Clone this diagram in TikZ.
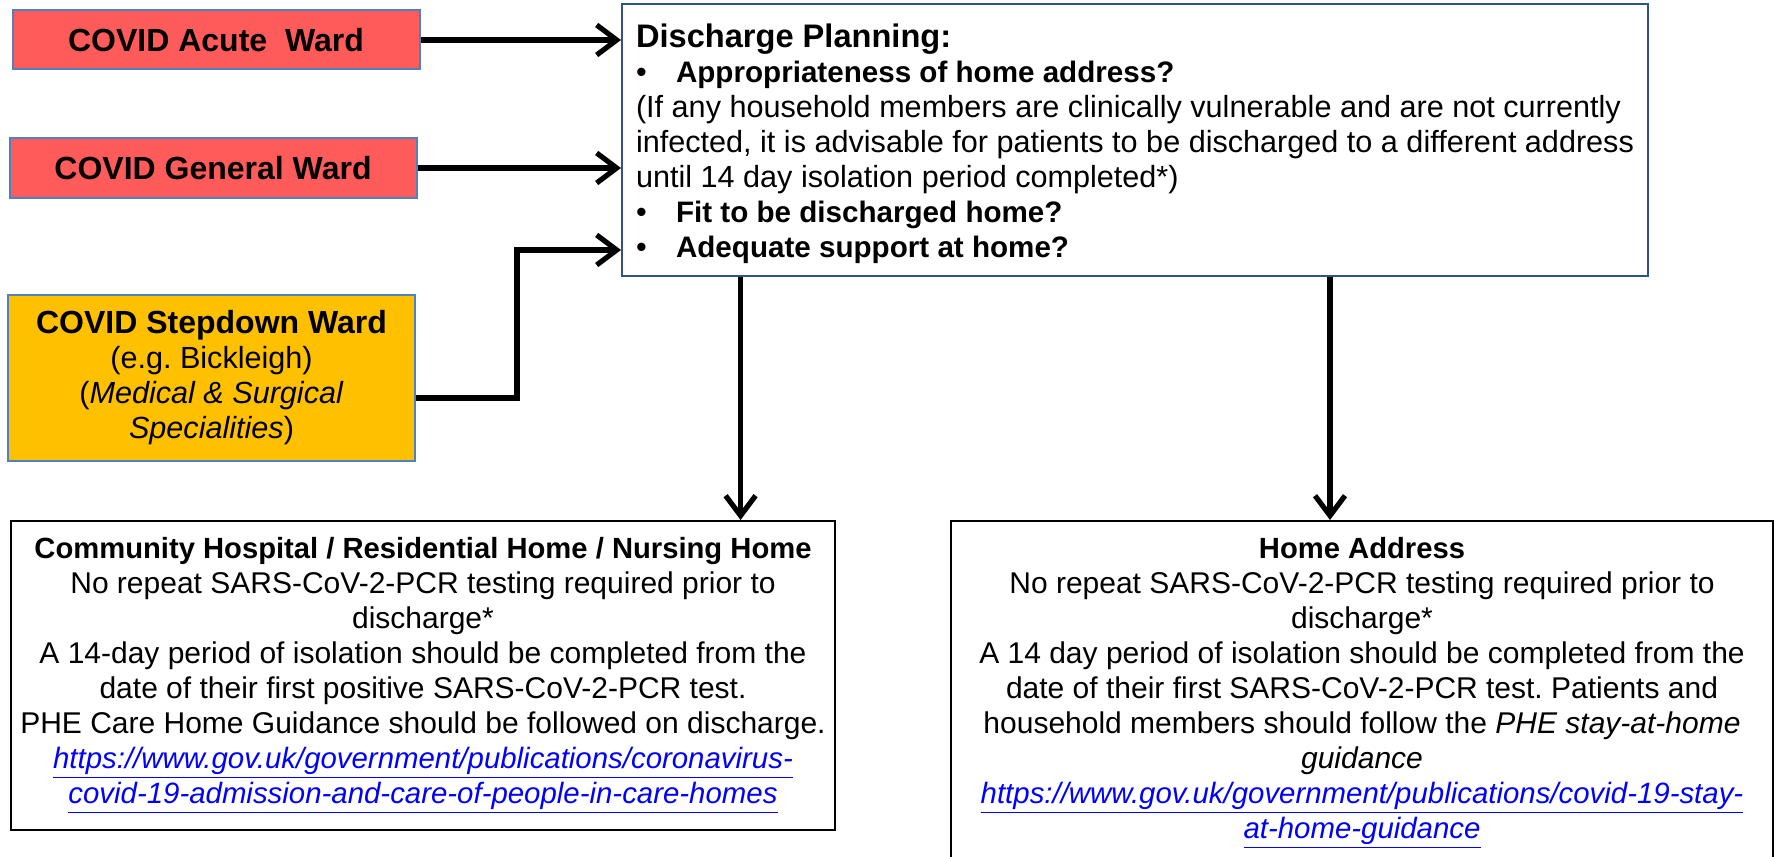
\documentclass[tikz,border=0pt]{standalone}
\usepackage{fontspec}
\setmainfont{Liberation Sans}
\usetikzlibrary{arrows.meta, positioning, calc}
\frenchspacing

\definecolor{wardred}{RGB}{255,91,91}
\definecolor{wardedge}{RGB}{79,129,189}
\definecolor{stepgold}{RGB}{255,192,0}
\definecolor{planedge}{RGB}{47,82,143}
\definecolor{linkblue}{RGB}{0,0,255}

\newcommand{\bul}[1]{\makebox[20pt][l]{•}{\fontsize{14.8pt}{17.5pt}\selectfont\textbf{#1}}}
\newcommand{\weblink}[1]{\textcolor{linkblue}{\fontsize{14.7pt}{17.5pt}\selectfont\underline{\textit{#1}}}}
\newcommand{\boxhead}[1]{{\fontsize{14.6pt}{17.5pt}\selectfont\textbf{#1}}}

\begin{document}
\begin{tikzpicture}[font=\fontsize{15.3pt}{17.5pt}\selectfont,
  wardbox/.style = {draw=wardedge, line width=1pt, fill=wardred, minimum width=203.5pt, minimum height=29.5pt, inner sep=0pt, align=center, font=\fontsize{16pt}{17.5pt}\selectfont\bfseries},
  stepbox/.style = {draw=wardedge, line width=1pt, fill=stepgold, minimum width=203.5pt, minimum height=83pt, inner sep=0pt, align=center},
  planbox/.style = {draw=planedge, line width=1pt, fill=white, minimum width=513pt, minimum height=135.6pt, inner sep=0pt, align=left},
  destbox/.style = {draw=black, line width=1pt, fill=white, minimum width=412pt, inner sep=0pt, align=center, font=\fontsize{15pt}{17.5pt}\selectfont},
  arrow/.style = {-{Straight Barb[length=10pt,width=15pt]}, line width=2.6pt}
]
\useasboundingbox (0,0) rectangle (887.5pt,-428pt);
\node[wardbox] (acute_ward) at (108pt,-20pt) {COVID Acute\ \ Ward};
\node[wardbox, minimum height=30pt] (general_ward) at (106.5pt,-84pt) {COVID General Ward};
\node[stepbox] (stepdown_ward) at (105.75pt,-189pt) {{\fontsize{16pt}{17.5pt}\selectfont\textbf{COVID Stepdown Ward}}\\(e.g. Bickleigh)\\(\textit{Medical \& Surgical}\\\textit{Specialities})};
\node[planbox] (discharge_plan) at (567.5pt,-70pt) {\rule{0pt}{15.5pt}{\fontsize{16.3pt}{17.5pt}\selectfont\textbf{Discharge Planning:}}\\
  \bul{Appropriateness of home address?}\\
  (If any household members are clinically vulnerable and are not currently\\
  infected, it is advisable for patients to be discharged to a different address\\
  until 14 day isolation period completed*)\\
  \bul{Fit to be discharged home?}\\
  \bul{Adequate support at home?}};
\node[destbox, minimum height=154.5pt] (community_home) at (211.5pt,-337.75pt) {\boxhead{Community Hospital / Residential Home / Nursing Home}\\
  No repeat SARS-CoV-2-PCR testing required prior to\\
  discharge*\\
  A 14-day period of isolation should be completed from the\\
  date of their first positive SARS-CoV-2-PCR test.\\
  PHE Care Home Guidance should be followed on discharge.\\
  \weblink{https://www.gov.uk/government/publications/coronavirus-}\\
  \weblink{covid-19-admission-and-care-of-people-in-care-homes}};
\node[destbox, minimum width=411pt, minimum height=172pt] (home_addr) at (681pt,-346.5pt) {\boxhead{Home Address}\\
  No repeat SARS-CoV-2-PCR testing required prior to\\
  discharge*\\
  A 14 day period of isolation should be completed from the\\
  date of their first SARS-CoV-2-PCR test. Patients and\\
  household members should follow the \textit{PHE stay-at-home}\\
  \textit{guidance}\\
  \weblink{https://www.gov.uk/government/publications/covid-19-stay-}\\
  \weblink{at-home-guidance}};
\coordinate (step_out) at ([yshift=-10pt]stepdown_ward.east);
\coordinate (step_bend) at (258.5pt,-125pt);
\coordinate (drop_left) at (370.3pt,0pt);
\coordinate (drop_right) at (665pt,0pt);
\draw[arrow] (acute_ward.east) -- (acute_ward.east -| discharge_plan.west);
\draw[arrow] (general_ward.east) -- (general_ward.east -| discharge_plan.west);
\draw[arrow] (step_out) -| (step_bend) -- (step_bend -| discharge_plan.west);
\draw[arrow] (drop_left |- discharge_plan.south) -- (drop_left |- community_home.north);
\draw[arrow] (drop_right |- discharge_plan.south) -- (drop_right |- home_addr.north);
\end{tikzpicture}
\end{document}
